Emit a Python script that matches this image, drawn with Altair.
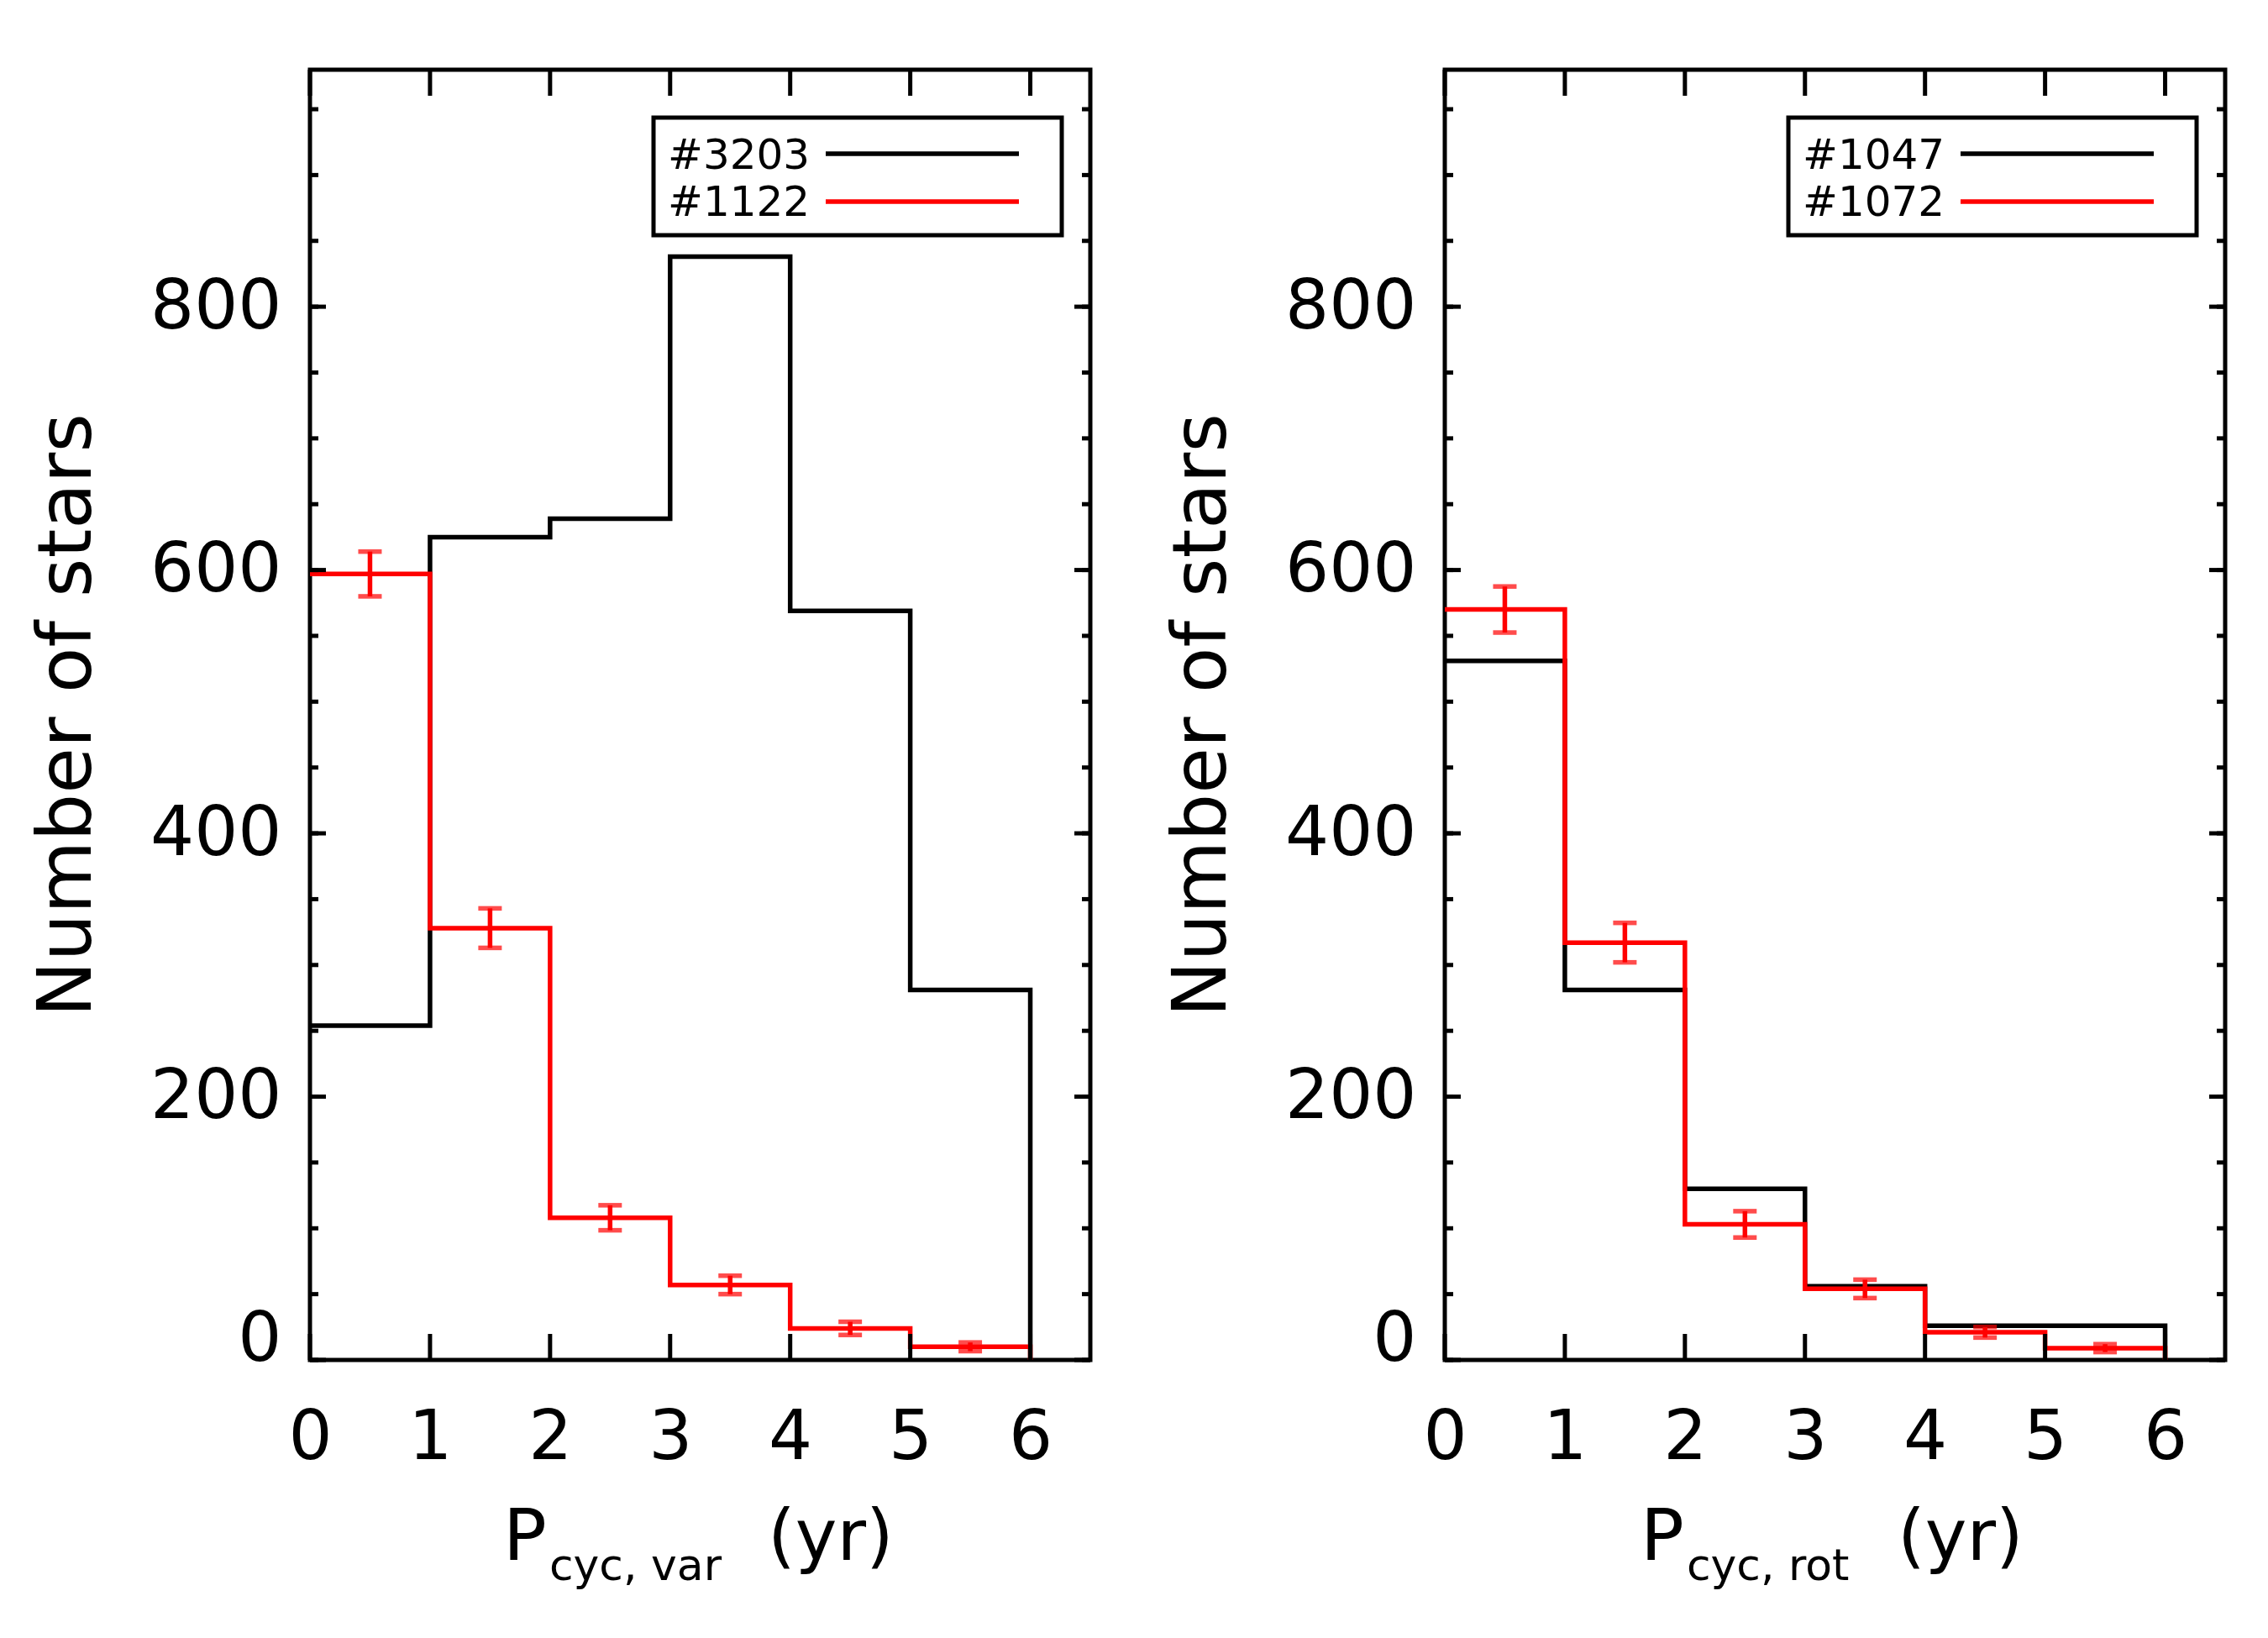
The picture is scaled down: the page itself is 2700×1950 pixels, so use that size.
import altair as alt
import pandas as pd

# ---- data ----
bin_edges = [0, 1, 2, 3, 4, 5, 6]
bin_centers = [0.5, 1.5, 2.5, 3.5, 4.5, 5.5]

left_black = [254, 625, 639, 838, 569, 281]
left_red = [597, 328, 108, 57, 24, 10]
left_red_err = [17, 15, 9.5, 7, 5, 3.3]

right_black = [531, 281, 130, 56, 26, 26]
right_red = [570, 317, 103, 54, 21, 9]
right_red_err = [17.5, 15, 10, 7, 4, 3]

left_legend = ["#3203", "#1122"]
right_legend = ["#1047", "#1072"]
left_sub = "cyc, var"
right_sub = "cyc, rot"
x_main = "P"
x_unit = "(yr)"
y_title = "Number of stars"

x_ticks = [0, 1, 2, 3, 4, 5, 6]
y_major = [0, 200, 400, 600, 800]
y_minor = [0, 50, 100, 150, 200, 250, 300, 350, 400, 450, 500, 550, 600,
           650, 700, 750, 800, 850, 900, 950]

W, H = 929, 1536
FONT = "DejaVu Sans"
LW = 5       # frame / ticks
HW = 5.5     # histogram lines


def panel(black, red, err, legend, sub, xoff):
    xs = alt.Scale(domain=[0, 6.5], nice=False, zero=False)
    ys = alt.Scale(domain=[0, 980], nice=False, zero=False)

    black_df = pd.DataFrame({"x": bin_edges, "y": black + [0]})
    red_df = pd.DataFrame({"x": bin_edges, "y": red + [0]})
    err_df = pd.DataFrame({
        "x": bin_centers,
        "y": [v - e for v, e in zip(red, err)],
        "hi": [v + e for v, e in zip(red, err)],
    })
    err_hi_df = pd.DataFrame({
        "x": bin_centers,
        "y": [v + e for v, e in zip(red, err)],
    })

    ylab_base = {"condition": {"test": "datum.value === 0", "value": "alphabetic"},
                 "value": "middle"}

    X = alt.X("x:Q", scale=xs)
    Y = alt.Y("y:Q", scale=ys)

    black_line = alt.Chart(black_df).mark_line(
        interpolate="step-after", color="black", strokeWidth=HW
    ).encode(
        x=alt.X("x:Q", scale=xs, axis=alt.Axis(
            values=x_ticks, format="d", ticks=False, domain=False, grid=False,
            labelFont=FONT, labelFontSize=82, labelColor="black",
            labelPadding=52, labelFlush=False, title=None)),
        y=alt.Y("y:Q", scale=ys, axis=alt.Axis(
            values=y_major, format="d", ticks=False, domain=False, grid=False,
            labelFont=FONT, labelFontSize=82, labelColor="black",
            labelPadding=34, labelBaseline=ylab_base, labelFlush=False,
            title=y_title, titleFont=FONT, titleFontSize=89,
            titleFontWeight="normal", titleColor="black", titlePadding=52)),
    )

    red_line = alt.Chart(red_df).mark_line(
        interpolate="step-after", color="red", strokeWidth=HW
    ).encode(x=X, y=Y)

    err_rule = alt.Chart(err_df).mark_rule(color="red", strokeWidth=HW).encode(
        x=X, y=Y, y2="hi:Q")
    cap_lo = alt.Chart(err_df).mark_tick(
        color="red", orient="horizontal", size=28, thickness=HW
    ).encode(x=X, y=Y)
    cap_hi = alt.Chart(err_hi_df).mark_tick(
        color="red", orient="horizontal", size=28, thickness=HW
    ).encode(x=X, y=Y)

    # inward ticks
    ymaj_df = pd.DataFrame({"y": y_major})
    ymin_df = pd.DataFrame({"y": y_minor})
    xt_df = pd.DataFrame({"x": x_ticks})
    tk = dict(color="black", strokeWidth=LW)
    yl_major = alt.Chart(ymaj_df).mark_rule(**tk).encode(
        y=Y, x=alt.value(0), x2=alt.value(19))
    yr_major = alt.Chart(ymaj_df).mark_rule(**tk).encode(
        y=Y, x=alt.value(W), x2=alt.value(W - 19))
    yl_minor = alt.Chart(ymin_df).mark_rule(**tk).encode(
        y=Y, x=alt.value(0), x2=alt.value(10))
    yr_minor = alt.Chart(ymin_df).mark_rule(**tk).encode(
        y=Y, x=alt.value(W), x2=alt.value(W - 10))
    xb = alt.Chart(xt_df).mark_rule(**tk).encode(
        x=X, y=alt.value(H), y2=alt.value(H - 31))
    xtop = alt.Chart(xt_df).mark_rule(**tk).encode(
        x=X, y=alt.value(0), y2=alt.value(31))

    # legend
    one = pd.DataFrame({"a": [0]})
    box = alt.Chart(one).mark_rect(
        fill="white", fillOpacity=0, stroke="black", strokeWidth=LW
    ).encode(x=alt.value(409), x2=alt.value(895), y=alt.value(57), y2=alt.value(197))
    leg_layers = []
    rows_y = [118, 174]
    line_y = [100, 157]
    colors = ["black", "red"]
    for i in range(2):
        leg_layers.append(
            alt.Chart(pd.DataFrame({"t": [legend[i]]})).mark_text(
                font=FONT, fontSize=50, align="left", baseline="alphabetic", color="black"
            ).encode(text="t:N", x=alt.value(426), y=alt.value(rows_y[i]))
        )
        leg_layers.append(
            alt.Chart(one).mark_rule(color=colors[i], strokeWidth=HW).encode(
                x=alt.value(614), x2=alt.value(844), y=alt.value(line_y[i]))
        )

    # x title with subscript
    t_p = alt.Chart(pd.DataFrame({"t": [x_main]})).mark_text(
        font=FONT, fontSize=86, align="left", baseline="alphabetic", color="black"
    ).encode(text="t:N", x=alt.value(230 + xoff), y=alt.value(1774))
    t_sub = alt.Chart(pd.DataFrame({"t": [sub]})).mark_text(
        font=FONT, fontSize=52, align="left", baseline="alphabetic", color="black"
    ).encode(text="t:N", x=alt.value(285 + xoff), y=alt.value(1798))
    t_unit = alt.Chart(pd.DataFrame({"t": [x_unit]})).mark_text(
        font=FONT, fontSize=84, align="left", baseline="alphabetic", color="black"
    ).encode(text="t:N", x=alt.value(545 - 2 * xoff), y=alt.value(1774))

    return alt.layer(
        black_line, red_line, err_rule, cap_lo, cap_hi,
        yl_major, yr_major, yl_minor, yr_minor, xb, xtop,
        box, *leg_layers, t_p, t_sub, t_unit,
    ).properties(width=W, height=H)


left = panel(left_black, left_red, left_red_err, left_legend, left_sub, 0)
right = panel(right_black, right_red, right_red_err, right_legend, right_sub, 3)

chart = alt.hconcat(left, right, spacing=81).configure(
    padding={"left": 33, "top": 78, "right": 0, "bottom": 0},
    background="white",
).configure_view(stroke="black", strokeWidth=LW)

chart.save("out.html", embed_options={"renderer": "svg", "actions": False})
